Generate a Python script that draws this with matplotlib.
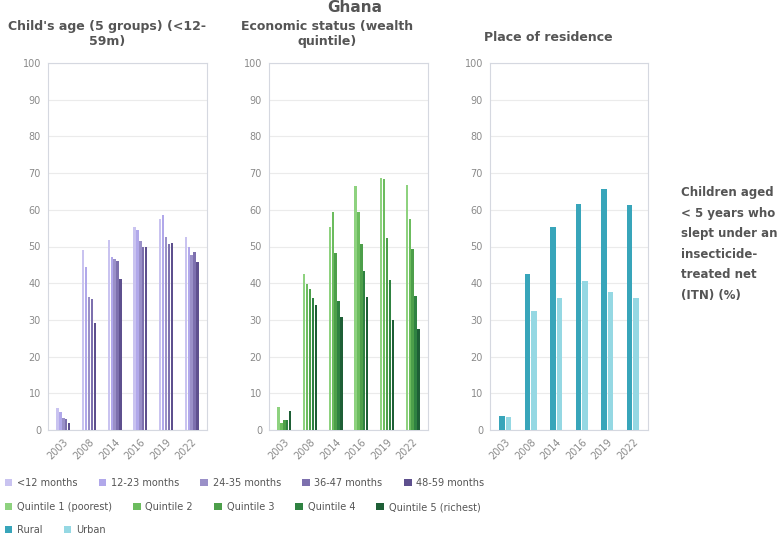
import numpy as np
import matplotlib.pyplot as plt
from matplotlib.patches import Patch

years = ['2003', '2008', '2014', '2016', '2019', '2022']

age_groups = ['<12 months', '12-23 months', '24-35 months', '36-47 months', '48-59 months']
age_values = [
    [6.0, 49.0, 51.9, 55.4, 57.5, 52.6],
    [4.9, 44.5, 47.2, 54.5, 58.5, 50.0],
    [3.2, 36.2, 46.6, 51.5, 52.7, 47.6],
    [3.1, 35.8, 46.0, 50.0, 50.6, 48.5],
    [2.0, 29.1, 41.2, 50.0, 51.0, 45.8],
]
age_colors = ['#c9c3f0', '#b1a8ea', '#9a90c8', '#7d70ae', '#5e508e']

wealth_groups = ['Quintile 1 (poorest)', 'Quintile 2', 'Quintile 3', 'Quintile 4', 'Quintile 5 (richest)']
wealth_values = [
    [6.4, 42.4, 55.3, 66.6, 68.6, 66.8],
    [2.0, 39.9, 59.5, 59.3, 68.4, 57.5],
    [2.6, 38.3, 48.1, 50.8, 52.3, 49.2],
    [2.6, 36.0, 35.2, 43.3, 41.0, 36.6],
    [5.3, 34.0, 30.8, 36.2, 30.0, 27.4],
]
wealth_colors = ['#8ed27f', '#6cbc5e', '#4d9f4a', '#2f8241', '#1e5f36']

residence_groups = ['Rural', 'Urban']
residence_values = [
    [3.9, 42.4, 55.4, 61.6, 65.8, 61.2],
    [3.6, 32.4, 36.0, 40.7, 37.7, 36.0],
]
residence_colors = ['#38a5ba', '#95d8e3']

fig = plt.figure(figsize=(7.77, 5.35), dpi=100)
W, H = 777, 535

def px_axes(x0, x1, ytop, ybot):
    return fig.add_axes([x0 / W, 1 - ybot / H, (x1 - x0) / W, (ybot - ytop) / H])

panels = [
    (48, 207, age_values, age_colors, 0.56),
    (269, 428, wealth_values, wealth_colors, 0.56),
    (490, 648, residence_values, residence_colors, 0.5),
]

x = np.arange(len(years))
for x0, x1, vals, cols, gw in panels:
    ax = px_axes(x0, x1, 63, 430)
    n = len(vals)
    bw = gw / n
    for i, (v, c) in enumerate(zip(vals, cols)):
        ax.bar(x - gw / 2 + bw * (i + 0.5), v, width=bw * 0.82, color=c, zorder=3)
    ax.set_ylim(0, 100)
    ax.set_xlim(-0.6, len(years) - 0.4)
    ax.set_yticks(range(0, 101, 10))
    ax.set_xticks(x)
    ax.set_xticklabels(years, rotation=45, ha='right', rotation_mode='anchor')
    ax.tick_params(length=0, labelsize=7, colors='#8a8a8a', pad=5)
    ax.grid(axis='y', color='#ebebeb', linewidth=0.8, zorder=0)
    for s in ax.spines.values():
        s.set_color('#d5d8e0')
        s.set_linewidth(0.8)

title_kw = dict(fontsize=9, fontweight='bold', color='#555555', ha='center', va='top')
fig.text(355 / W, 1 - 0 / H, 'Ghana', fontsize=11, fontweight='bold', color='#555555', ha='center', va='top')
fig.text(107 / W, 1 - 20 / H, "Child's age (5 groups) (<12-\n59m)", linespacing=1.2, **title_kw)
fig.text(327 / W, 1 - 20 / H, 'Economic status (wealth\nquintile)', linespacing=1.2, **title_kw)
fig.text(548 / W, 1 - 31 / H, 'Place of residence', **title_kw)

fig.text(681 / W, 1 - 186 / H,
         'Children aged\n< 5 years who\nslept under an\ninsecticide-\ntreated net\n(ITN) (%)',
         fontsize=8.5, fontweight='bold', color='#555555', ha='left', va='top', linespacing=1.75)

legend_rows = [
    (age_groups, age_colors, 483),
    (wealth_groups, wealth_colors, 507),
    (residence_groups, residence_colors, 530),
]
for labels, cols, yc in legend_rows:
    handles = [Patch(facecolor=c, edgecolor='none') for c in cols]
    fig.legend(handles, labels, loc='center left', bbox_to_anchor=(0.006, 1 - yc / H),
               ncol=len(labels), frameon=False, fontsize=7, labelcolor='#555555',
               handlelength=0.8, handleheight=0.8, handletextpad=0.45, columnspacing=2.2,
               borderaxespad=0, borderpad=0)

fig.savefig('out.png', dpi=100)
